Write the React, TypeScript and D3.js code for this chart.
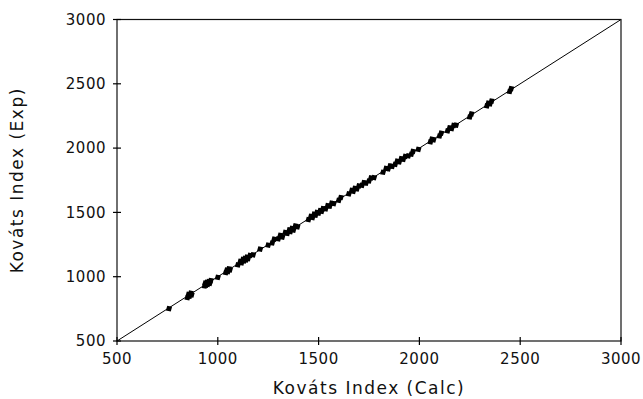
import React from "react";
import * as d3 from "d3";

const xTicks = [500, 1000, 1500, 2000, 2500, 3000];
const yTicks = [500, 1000, 1500, 2000, 2500, 3000];

const calcValues = [
  758, 850, 855, 860, 866, 870, 935, 938, 942, 946, 950, 955, 960, 965, 1000, 1040, 1045, 1050, 1055,
  1060, 1100, 1112, 1118, 1125, 1130, 1135, 1140, 1145, 1150, 1160, 1175, 1210, 1250, 1270, 1280, 1300,
  1310, 1320, 1335, 1345, 1355, 1360, 1368, 1375, 1385, 1395, 1450, 1462, 1470, 1478, 1485, 1492, 1500,
  1508, 1515, 1522, 1535, 1545, 1555, 1565, 1575, 1600, 1610, 1650, 1665, 1672, 1680, 1690, 1700, 1715,
  1725, 1735, 1750, 1760, 1775, 1820, 1835, 1845, 1855, 1865, 1880, 1890, 1900, 1910, 1920, 1930, 1945,
  1960, 1968, 1995, 2055, 2062, 2070, 2100, 2108, 2140, 2150, 2160, 2170, 2182, 2250, 2258, 2335, 2342,
  2350, 2358, 2448, 2455
];

const expValues = [
  752, 838, 862, 848, 872, 858, 928, 950, 934, 956, 940, 962, 948, 970, 995, 1032, 1052, 1040, 1062,
  1052, 1092, 1120, 1108, 1134, 1122, 1142, 1130, 1152, 1140, 1166, 1170, 1214, 1246, 1262, 1292, 1294,
  1322, 1308, 1344, 1336, 1365, 1350, 1376, 1362, 1395, 1388, 1444, 1470, 1460, 1486, 1478, 1500, 1494,
  1515, 1508, 1530, 1528, 1552, 1548, 1572, 1568, 1594, 1616, 1644, 1672, 1664, 1688, 1682, 1706, 1710,
  1732, 1728, 1744, 1768, 1770, 1812, 1842, 1838, 1862, 1858, 1874, 1898, 1892, 1918, 1912, 1936, 1940,
  1952, 1974, 1990, 2048, 2070, 2064, 2094, 2116, 2134, 2158, 2152, 2176, 2178, 2242, 2266, 2328, 2350,
  2344, 2366, 2440, 2462
];

const lineDomain = [500, 3000];

const width = 643;
const height = 399;
const margin = { left: 117, right: 22, top: 19.5, bottom: 58 };
const font = "DejaVu Sans, Verdana, sans-serif";

export default function App() {
  const x = d3.scaleLinear().domain([500, 3000]).range([margin.left, width - margin.right]);
  const y = d3.scaleLinear().domain([500, 3000]).range([height - margin.bottom, margin.top]);
  const diamond = d3.symbol().type(d3.symbolDiamond).size(18)();

  const x0 = x(500), x1 = x(3000), y0 = y(500), y1 = y(3000);

  return (
    <svg width={width} height={height} style={{ position: "absolute", left: 0, top: 0, background: "#fff" }}>
      <line x1={x(lineDomain[0])} y1={y(lineDomain[0])} x2={x(lineDomain[1])} y2={y(lineDomain[1])} stroke="#000" strokeWidth={1} />
      {calcValues.map((c, i) => (
        <path key={i} d={diamond!} transform={`translate(${x(c)},${y(expValues[i])}) rotate(-32) scale(1.6,0.85)`} fill="#000" />
      ))}
      <rect x={x0} y={y1} width={x1 - x0} height={y0 - y1} fill="none" stroke="#111" strokeWidth={1.2} />
      {xTicks.map((t) => (
        <g key={"x" + t}>
          <line x1={x(t)} x2={x(t)} y1={y0 - 4} y2={y0 + 4} stroke="#000" strokeWidth={1.2} />
          <text x={x(t)} y={y0 + 23} textAnchor="middle" fontFamily={font} fontSize={15} fill="#111" letterSpacing={0.5}>{t}</text>
        </g>
      ))}
      {yTicks.map((t) => (
        <g key={"y" + t}>
          <line x1={x0 - 4} x2={x0 + 4} y1={y(t)} y2={y(t)} stroke="#000" strokeWidth={1.2} />
          <text x={x0 - 11} y={y(t)} dy="0.35em" textAnchor="end" fontFamily={font} fontSize={15} fill="#111" letterSpacing={0.5}>{t}</text>
        </g>
      ))}
      <text x={(x0 + x1) / 2} y={394} textAnchor="middle" fontFamily={font} fontSize={17} fill="#111" letterSpacing={1.5}>Kováts Index (Calc)</text>
      <text transform={`translate(23,${(y0 + y1) / 2}) rotate(-90)`} textAnchor="middle" fontFamily={font} fontSize={17} fill="#111" letterSpacing={1.5}>Kováts Index (Exp)</text>
    </svg>
  );
}
